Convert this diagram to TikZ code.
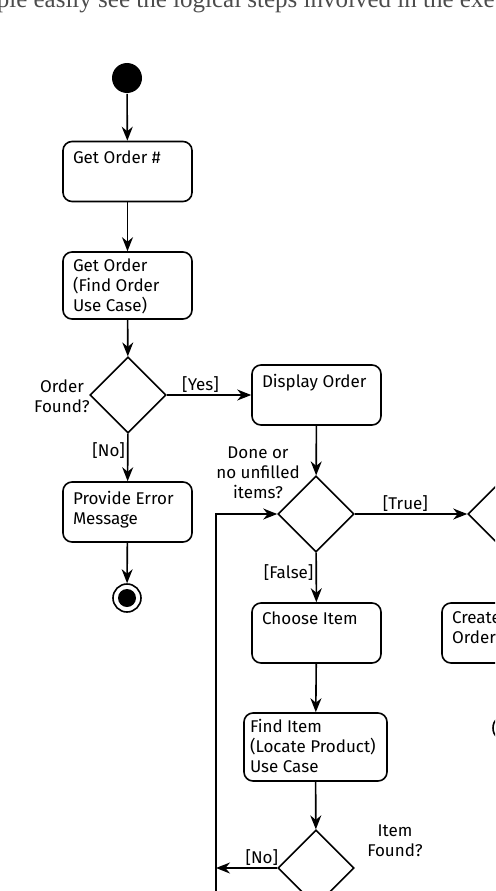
\documentclass[tikz,border=0pt]{standalone}
\usepackage{fontspec}
\setmainfont{Fira Sans}
\newfontfamily\bookfont{Liberation Serif}
\usetikzlibrary{shapes.geometric, arrows.meta, positioning}
\tikzset{
->, % every connector gets an arrow head
>={Stealth[length=14pt, width=11pt]}, % filled arrow heads
action/.style={draw, rectangle, rounded corners=9pt, minimum width=129pt, minimum height=60pt, inner sep=0pt}, % activity box
boxtext/.style={anchor=north west, align=left, inner sep=0pt, xshift=10pt, yshift=-9pt}, % its text, top left
decision/.style={draw, diamond, aspect=1, minimum width=76pt, minimum height=76pt, inner sep=0pt},
start state/.style={circle, fill, minimum size=30pt, inner sep=0pt},
end state/.style={circle, draw, minimum size=28pt, inner sep=0pt, path picture={\fill (path picture bounding box.center) circle (9pt);}},
guard/.style={inner sep=2pt}, % [Yes], [No] ...
booktext/.style={anchor=base west, inner sep=0pt, text=black!70, font=\bookfont\fontsize{25}{30}\selectfont},
}

\begin{document}
\begin{tikzpicture}[x=1pt, y=-1pt, line width=1.6pt, font=\fontsize{17}{20}\selectfont]
    \useasboundingbox (0,0) rectangle (495,891);
    \clip (0,0) rectangle (495,891);
    % line of the page above the figure
    \node[booktext] (pagetext) at (-4,8) {ple easily see the logical steps involved in the exe};

    % left column
    \node[start state] (start) at (127,78) {};
    \node[action, label={[boxtext]north west:Get Order \#}] (getnum) at (127.5,171.5) {};
    \node[action, minimum height=67pt, label={[boxtext, yshift=2pt]north west:Get Order\\(Find Order\\Use Case)}] (getorder) at (127.5,285.5) {};
    \node[decision] (orderq) at (128,395) {};
    \node[align=center] (orderlbl) at (62,396) {Order\\Found?};
    \node[action, label={[boxtext]north west:Provide Error\\Message}] (error) at (127.5,512) {};
    \node[end state] (stopleft) at (127,598) {};

    % middle column
    \node[action, label={[boxtext]north west:Display Order}] (display) at (316.5,395) {};
    \node[decision] (doneq) at (316,514) {};
    \node[align=center] (donelbl) at (258,473) {Done or\\no unfilled\\items?};
    \node[action, label={[boxtext]north west:Choose Item}] (choose) at (316.5,633) {};
    \node[action, minimum width=143pt, minimum height=68pt, label={[boxtext, xshift=-4pt, yshift=3pt]north west:Find Item\\(Locate Product)\\Use Case}] (find) at (315.5,747) {};
    \node[decision] (itemq) at (316,868) {};
    \node[align=center] (itemlbl) at (395,841) {Item\\Found?};
    \coordinate (loopin) at (216,868);
    \coordinate (loopbot) at (216,900);
    \coordinate (looptop) at (216,514);

    % right column
    \node[decision] (merge) at (506,514) {};
    \node[action, label={[boxtext]north west:Create\\Order}] (create) at (506.5,633) {};
    \node[end state] (stopright) at (507,728) {};

    \draw (start) -- (getnum);
    \draw (getnum) -- (getorder);
    \draw (getorder) -- (orderq);
    \draw (orderq) -- node[guard, above, pos=0.4] {[Yes]} (display);
    \draw (orderq) -- node[guard, left, pos=0.35] {[No]} (error);
    \draw (error) -- (stopleft);
    \draw (display) -- (doneq);
    \draw (doneq) -- node[guard, above, pos=0.45] {[True]} (merge);
    \draw (doneq) -- node[guard, left, pos=0.4] {[False]} (choose);
    \draw (choose) -- (find);
    \draw (find) -- (itemq);
    \draw (itemq) -- node[guard, above, pos=0.25] {[No]} (loopin);
    \draw (loopbot) -- (looptop) -- (doneq);
\end{tikzpicture}
\end{document}
